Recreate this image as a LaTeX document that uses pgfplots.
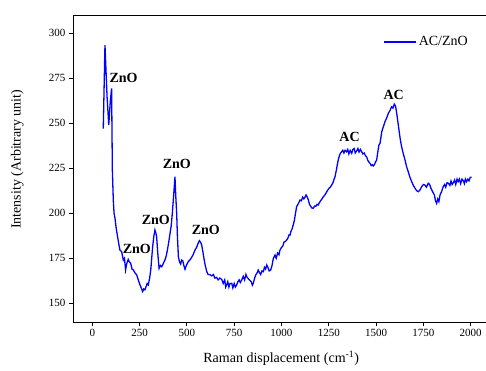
\documentclass[border=0pt]{standalone}
\usepackage{fontspec}
\setmainfont{Liberation Serif}
\usepackage{pgfplots}
\pgfplotsset{compat=1.18}
\begin{document}
\begin{tikzpicture}
\useasboundingbox (-73pt,-49pt) rectangle (413pt,15pt+307pt);
\begin{axis}[
  at={(0,0)}, anchor=south west,
  scale only axis, width=413pt, height=307pt,
  xmin=-102, xmax=2081, ymin=139.6, ymax=310.2,
  axis x line*=bottom, axis y line*=left,
  axis line style={-, line width=0.8pt},
  tick align=outside, major tick length=4pt,
  tick style={black, line width=0.8pt},
  xtick={0,250,...,2000}, ytick={150,175,...,300},
  /pgf/number format/assume math mode=true,
  /pgf/number format/set thousands separator={},
  ticklabel style={font=\fontsize{11}{11}\selectfont},
  xlabel={Raman displacement (cm\textsuperscript{-1})},
  ylabel={Intensity (Arbitrary unit)},
  label style={font=\fontsize{14}{14}\selectfont},
  xlabel style={at={(axis description cs:0.504,-0.117)}, anchor=center},
  ylabel style={at={(axis description cs:-0.135,0.53)}, anchor=center},
  legend style={draw=none, fill=none, at={(rel axis cs:0.744,0.912)}, anchor=west, font=\fontsize{14}{14}\selectfont},
  legend image code/.code={\draw[#1] (0pt,0pt) -- (32pt,0pt);},
]
\addplot[blue, line width=1.3pt] coordinates {
(58,247) (67,293.5) (78,265) (87,249) (95,262) (102,269.4) (106,224) (111,207.4)
(115,200) (120,197.2) (126,192) (132,188) (140,183) (146,179.6) (155,178.7) (164,174)
(170,175) (176,168.5) (182,172) (190,174.4) (196,173) (203,172.2) (210,169) (217,168.5)
(225,167) (235,165.7) (243,163) (252,160.2) (259,158.5) (266,156.5) (272,158) (278,157.5)
(284,159.2) (290,161) (296,160.2) (303,164) (309,168.5) (314,175) (319,181.4) (325,187)
(331,190.7) (336,189) (340,187) (346,178) (353,169.4) (360,171) (367,170.3) (375,172)
(384,174.1) (390,176) (397,179.6) (404,184) (411,188.9) (417,193) (423,200) (430,210)
(437,220.3) (441,210) (446,200) (450,187) (455,175.9) (461,173) (467,171.8) (472,174)
(478,173.7) (484,171) (490,168.9) (497,171) (507,173.1) (515,174) (525,175.5) (533,177)
(543,179.6) (551,181) (558,183) (566,184.8) (572,184) (578,182.4) (584,179) (590,175)
(597,171) (605,167.6) (612,166) (620,166) (631,165.2) (640,166) (648,164) (657,164.4)
(665,163) (674,164) (684,163.3) (692,161) (700,163) (705,159) (710,160.2) (716,162)
(722,159) (728,161) (737,161.1) (743,158.5) (750,161) (756,159) (763,160.2) (770,162)
(776,163) (782,161.5) (790,163) (798,165) (805,163) (812,166) (816,164.8) (822,164)
(830,163) (840,162) (846,160) (851,161.1) (858,164) (865,166) (872,167) (877,168.5)
(884,167) (890,166) (897,168) (904,167.6) (910,170) (916,169) (922,171.3) (928,170)
(935,168) (943,168.5) (950,171) (957,175) (966,176.8) (972,175) (980,178) (987,177)
(992,179.6) (1000,181) (1008,182) (1013,184) (1019,184.2) (1026,185) (1033,186) (1040,188)
(1045,187.9) (1050,190) (1055,191) (1062,193.5) (1068,196) (1074,200) (1080,203.7) (1087,205)
(1092,206) (1098,207.4) (1105,207) (1112,209) (1118,208) (1124,208.9) (1130,210.2) (1136,209)
(1142,207.4) (1148,205) (1154,204) (1160,203) (1168,202.8) (1175,204) (1182,204) (1188,205)
(1194,204.6) (1200,205.9) (1207,207) (1214,208) (1221,209.2) (1228,210) (1234,211) (1239,212)
(1245,213) (1252,214) (1258,214.5) (1265,215.7) (1272,217) (1278,219) (1283,220.3) (1290,224)
(1295,227) (1300,229.6) (1306,232) (1312,233.5) (1318,234.2) (1324,235) (1330,233.5) (1336,235)
(1344,234.2) (1350,235.5) (1356,233) (1363,235) (1371,233.3) (1377,235.5) (1384,236) (1390,233.5)
(1397,234.6) (1404,236) (1410,234) (1417,235.5) (1424,234.2) (1430,233) (1437,233.5) (1444,232)
(1450,231.4) (1456,229.5) (1462,228.5) (1468,227.8) (1474,226.5) (1480,227) (1485,226.3) (1491,227)
(1497,228.5) (1503,229.6) (1509,234) (1515,238) (1521,238.9) (1530,245.3) (1538,248) (1547,250.9)
(1556,253) (1565,255.6) (1573,257) (1582,259.2) (1589,258.5) (1596,260.7) (1603,259.5) (1609,255.6)
(1615,251) (1621,246.3) (1628,241) (1635,237) (1644,233) (1653,229.6) (1661,226) (1670,223.1)
(1679,220) (1688,217.6) (1697,215.5) (1706,213.9) (1715,212.5) (1723,212) (1732,213) (1741,214.8)
(1750,216) (1758,215.7) (1766,214.5) (1776,216.7) (1783,216) (1790,213.9) (1799,212) (1808,210.2)
(1814,207) (1820,205.5) (1826,208) (1832,206.5) (1838,210.2) (1846,212) (1855,214.8) (1862,216)
(1868,214.5) (1875,217) (1882,216.7) (1890,215.5) (1896,218) (1902,216) (1908,217) (1915,218.5)
(1921,216) (1928,219) (1934,217.6) (1940,219) (1947,216.5) (1954,219) (1961,218.1) (1967,216.5)
(1972,219) (1978,217.6) (1985,219) (1991,218) (1998,220) (2005,220)
};
\addlegendentry{AC/ZnO}
\draw[line width=0.8pt] (rel axis cs:0,1) -- (rel axis cs:1,1);
\begin{scope}[every node/.style={font=\bfseries\fontsize{14}{14}\selectfont}]
\node at (axis cs:165,275.3) {ZnO};
\node at (axis cs:235,180.3) {ZnO};
\node at (axis cs:336,196.3) {ZnO};
\node at (axis cs:447,227.2) {ZnO};
\node at (axis cs:600,190.7) {ZnO};
\node at (axis cs:1360,242.2) {AC};
\node at (axis cs:1593,265.7) {AC};
\end{scope}
\end{axis}
\end{tikzpicture}
\end{document}
